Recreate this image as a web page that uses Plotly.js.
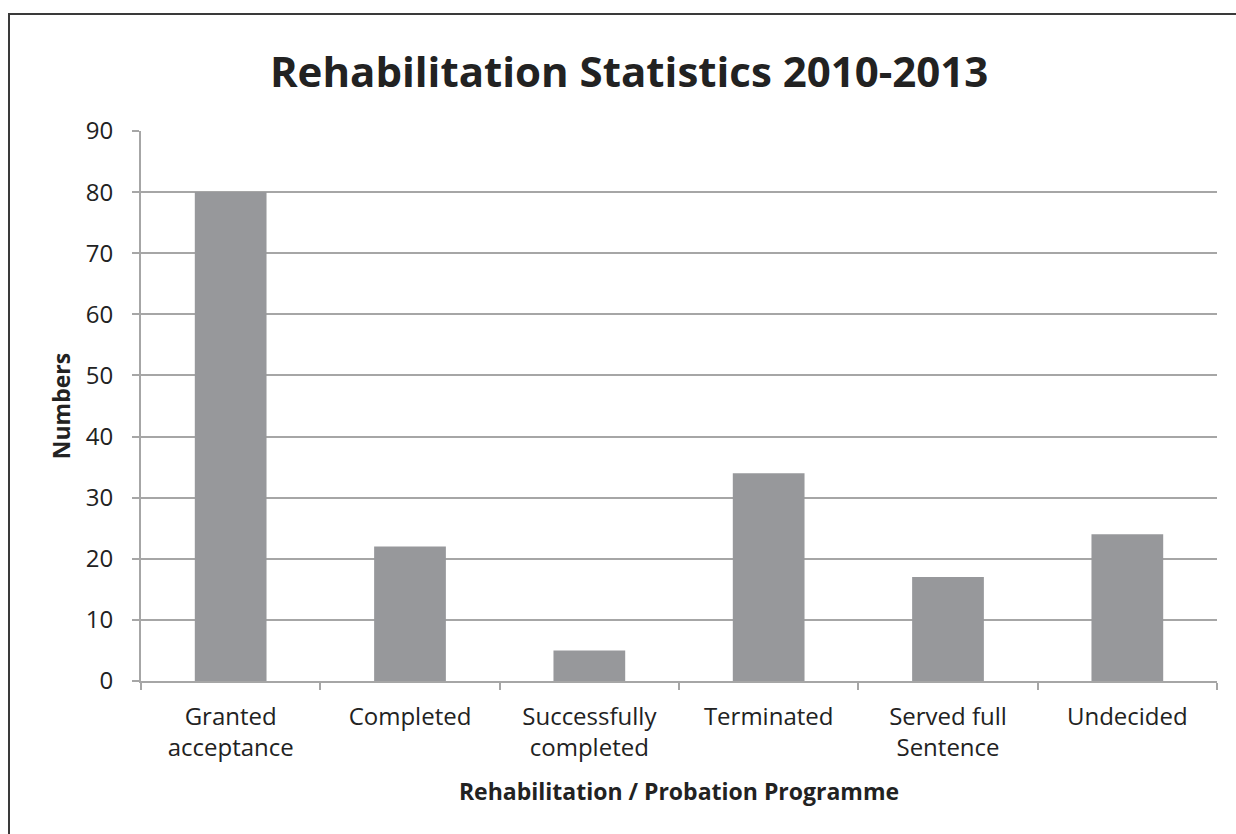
<!DOCTYPE html>
<html>
<head>
<meta charset="utf-8">
<script src="https://cdn.plot.ly/plotly-3.0.1.min.js"></script>
<style>
  html, body { margin: 0; padding: 0; background: #fff; }
  #wrap { position: relative; width: 1236px; height: 834px; }
  #chart { position: absolute; left: 0; top: 0; width: 1236px; height: 834px; }
  #frame { position: absolute; left: 8px; top: 13px; width: 1240px; height: 840px;
           border-left: 2px solid #3a3a3a; border-top: 2px solid #3a3a3a; pointer-events: none; }
</style>
</head>
<body>
<div id="wrap">
  <div id="chart"></div>
  <div id="frame"></div>
</div>
<script>
const categories = ["Granted<br>acceptance", "Completed", "Successfully<br>completed", "Terminated", "Served full<br>Sentence", "Undecided"];
const values = [80, 22, 5, 34, 17, 24];
const yTicks = [0, 10, 20, 30, 40, 50, 60, 70, 80, 90];
const titleText = "Rehabilitation Statistics 2010-2013";
const xTitle = "Rehabilitation / Probation Programme";
const yTitle = "Numbers";

const font = "Open Sans, Noto Sans, sans-serif";

Plotly.newPlot("chart", [{
  type: "bar",
  x: categories,
  y: values,
  marker: { color: "#97989b" },
  hoverinfo: "x+y"
}], {
  width: 1236, height: 834,
  margin: { l: 141, r: 19, t: 131, b: 153 },
  paper_bgcolor: "rgba(0,0,0,0)",
  plot_bgcolor: "#fff",
  bargap: 0.6,
  showlegend: false,
  title: { text: "<b>" + titleText + "</b>", font: { family: font, size: 42, color: "#222" },
           x: 0.509, xanchor: "center", y: 0.913, yanchor: "middle" },
  xaxis: {
    type: "category",
    showline: true, linecolor: "#a6a6a6", linewidth: 2,
    ticks: "outside", tickson: "boundaries", ticklen: 7, tickcolor: "#a6a6a6", tickwidth: 2,
    showgrid: false,
    ticklabelstandoff: 13,
    tickfont: { family: font, size: 24, color: "#222" },
    title: { text: "<b>" + xTitle + "</b>", font: { family: font, size: 23, color: "#222" }, standoff: 22 }
  },
  yaxis: {
    range: [0, 90],
    tickvals: yTicks,
    showline: true, linecolor: "#a6a6a6", linewidth: 2,
    ticks: "outside", ticklen: 7, tickcolor: "#a6a6a6", tickwidth: 2,
    showgrid: true, gridcolor: "#a6a6a6", gridwidth: 2,
    zeroline: false,
    ticklabelstandoff: 14,
    tickfont: { family: font, size: 24, color: "#222" },
    title: { text: "<b>" + yTitle + "</b>", font: { family: font, size: 23, color: "#222" }, standoff: 9 }
  }
}, { displayModeBar: false, staticPlot: true });
</script>
</body>
</html>
